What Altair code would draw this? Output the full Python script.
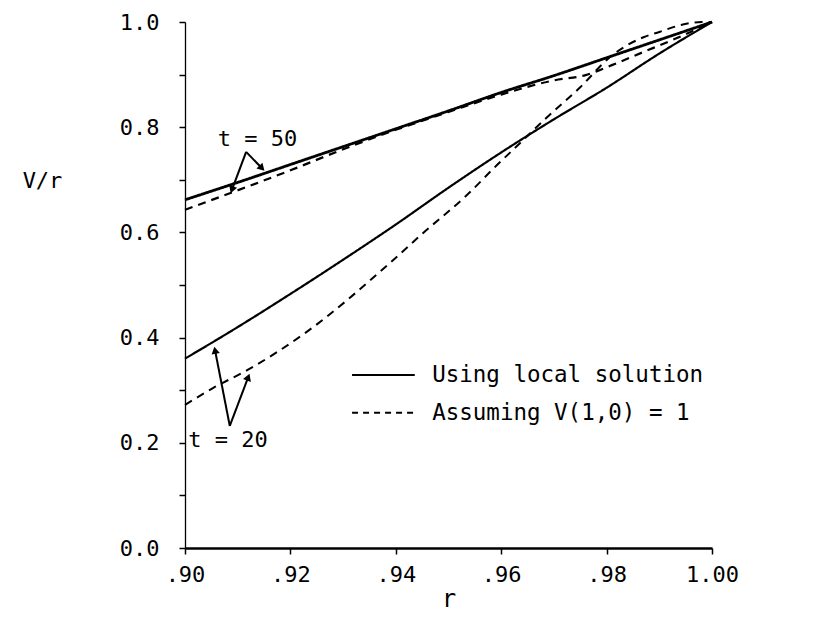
import math
import altair as alt
import pandas as pd

# ---- curve data ----
t50_solid_r = [0.900, 0.910, 0.920, 0.930, 0.940, 0.950, 0.960, 0.970, 0.980, 0.990, 1.000]
t50_solid_v = [0.662, 0.695, 0.729, 0.763, 0.797, 0.831, 0.866, 0.898, 0.932, 0.966, 1.000]

t50_dash_r = [0.900, 0.910, 0.920, 0.930, 0.940, 0.950, 0.960, 0.970, 0.976, 0.981, 0.987, 0.993, 1.000]
t50_dash_v = [0.643, 0.680, 0.718, 0.758, 0.795, 0.829, 0.862, 0.889, 0.899, 0.918, 0.943, 0.968, 1.000]

t20_solid_r = [0.900, 0.910, 0.920, 0.930, 0.940, 0.950, 0.960, 0.970, 0.980, 0.990, 1.000]
t20_solid_v = [0.360, 0.420, 0.483, 0.548, 0.615, 0.685, 0.752, 0.815, 0.875, 0.940, 1.000]

t20_dash_r = [0.900, 0.9053, 0.9118, 0.9231, 0.9389, 0.9452, 0.9535, 0.9592, 0.9636, 0.9687,
              0.975, 0.9806, 0.987, 0.990, 0.994, 0.998, 1.000]
t20_dash_v = [0.272, 0.304, 0.338, 0.411, 0.542, 0.599, 0.671, 0.728, 0.770, 0.819,
              0.876, 0.933, 0.971, 0.981, 0.994, 1.000, 1.000]

methods = ["Using local solution", "Assuming V(1,0) = 1"]

# ---- annotation data (data units) ----
ann_text = ["t = 50", "t = 20"]
ann_text_r = [0.9062, 0.9006]
ann_text_v = [0.778, 0.205]

arrow_r0 = [0.9116, 0.9116, 0.9085, 0.9085]
arrow_v0 = [0.753, 0.753, 0.232, 0.232]
arrow_r1 = [0.9089, 0.9146, 0.9057, 0.9120]
arrow_v1 = [0.681, 0.722, 0.376, 0.325]

legend_r0 = 0.9317
legend_r1 = 0.9436
legend_text_r = 0.9469
legend_v = [0.329, 0.257]

FONT = "DejaVu Sans Mono"
W, H = 527, 526

rows = []
for name, rs, vs, m, sw in [
    ("t50s", t50_solid_r, t50_solid_v, methods[0], 2.8),
    ("t50d", t50_dash_r, t50_dash_v, methods[1], 2.2),
    ("t20s", t20_solid_r, t20_solid_v, methods[0], 2.2),
    ("t20d", t20_dash_r, t20_dash_v, methods[1], 2.0),
]:
    for i, (r, v) in enumerate(zip(rs, vs)):
        rows.append({"series": name, "r": r, "v": v, "method": m, "i": i, "sw": sw})
df = pd.DataFrame(rows)

xs = alt.Scale(domain=[0.9, 1.0], nice=False, zero=False)
ys = alt.Scale(domain=[0.0, 1.0], nice=False)
dash = alt.Scale(domain=methods, range=[[1, 0], [8, 6]])

x_axis = alt.Axis(
    values=[0.90, 0.92, 0.94, 0.96, 0.98, 1.00],
    labelExpr="datum.value >= 0.999 ? '1.00' : replace(format(datum.value, '.2f'), '0.', '.')",
    title="r", titleFont=FONT, titleFontSize=24, titleFontWeight="normal",
    titleColor="black", titlePadding=2,
    labelFont=FONT, labelFontSize=22, labelColor="black", labelPadding=10,
    labelFlush=False, labelOverlap=False,
    tickSize=6, tickColor="black", tickWidth=1.5,
    domainColor="black", domainWidth=2.5, grid=False,
)
y_axis = alt.Axis(
    values=[round(0.1 * k, 1) for k in range(11)],
    labelExpr="round(datum.value * 10) % 2 == 0 ? format(datum.value, '.1f') : ''",
    title="V/r", titleFont=FONT, titleFontSize=22, titleFontWeight="normal",
    titleColor="black", titleAngle=0, titleAlign="center", titleBaseline="middle",
    titleX=-143, titleY=158,
    labelFont=FONT, labelFontSize=22, labelColor="black", labelPadding=20,
    labelFlush=False, labelOverlap=False,
    tickSize=6, tickColor="black", tickWidth=1.5,
    domainColor="black", domainWidth=1.3, grid=False,
)

lines = alt.Chart(df).mark_line(color="black", interpolate="monotone").encode(
    x=alt.X("r:Q", scale=xs, axis=x_axis),
    y=alt.Y("v:Q", scale=ys, axis=y_axis),
    detail="series:N",
    order="i:Q",
    strokeWidth=alt.StrokeWidth("sw:Q", scale=None),
    strokeDash=alt.StrokeDash("method:N", scale=dash, legend=None),
)

# arrows
adf = pd.DataFrame({"r0": arrow_r0, "v0": arrow_v0, "r1": arrow_r1, "v1": arrow_v1})
adf["ang"] = [
    (math.degrees(math.atan2((r1 - r0) * W * 10, (v1 - v0) * H)) + 360) % 360
    for r0, v0, r1, v1 in zip(arrow_r0, arrow_v0, arrow_r1, arrow_v1)
]
arrow_lines = alt.Chart(adf).mark_rule(color="black", strokeWidth=2).encode(
    x=alt.X("r0:Q", scale=xs), y=alt.Y("v0:Q", scale=ys),
    x2="r1:Q", y2="v1:Q",
)
arrow_heads = alt.Chart(adf).mark_point(shape="triangle-up", filled=True, color="black",
                                        size=70, opacity=1).encode(
    x=alt.X("r1:Q", scale=xs), y=alt.Y("v1:Q", scale=ys),
    angle=alt.Angle("ang:Q", scale=None),
)

tdf = pd.DataFrame({"txt": ann_text, "r": ann_text_r, "v": ann_text_v})
ann_texts = alt.Chart(tdf).mark_text(font=FONT, fontSize=22, align="left", baseline="middle",
                                     color="black").encode(
    x=alt.X("r:Q", scale=xs), y=alt.Y("v:Q", scale=ys), text="txt:N",
)

# legend drawn in the plot
ldf = pd.DataFrame({"method": methods, "v": legend_v,
                    "r0": [legend_r0] * 2, "r1": [legend_r1] * 2, "rt": [legend_text_r] * 2})
leg_lines = alt.Chart(ldf).mark_rule(color="black", strokeWidth=2).encode(
    x=alt.X("r0:Q", scale=xs), x2="r1:Q", y=alt.Y("v:Q", scale=ys),
    strokeDash=alt.StrokeDash("method:N", scale=alt.Scale(domain=methods, range=[[1, 0], [6, 5]]), legend=None),
)
leg_text = alt.Chart(ldf).mark_text(font=FONT, fontSize=22.5, align="left", baseline="middle",
                                    color="black").encode(
    x=alt.X("rt:Q", scale=xs), y=alt.Y("v:Q", scale=ys), text="method:N",
)

chart = alt.layer(lines, arrow_lines, arrow_heads, ann_texts, leg_lines, leg_text).resolve_scale(
    strokeDash="independent"
).properties(
    width=W, height=H,
    autosize=alt.AutoSizeParams(type="none"),
    padding={"left": 177, "top": 14, "right": 100, "bottom": 72},
    background="white",
).configure_view(stroke=None)

chart.save("out.html", embed_options={"renderer": "svg", "actions": False})
